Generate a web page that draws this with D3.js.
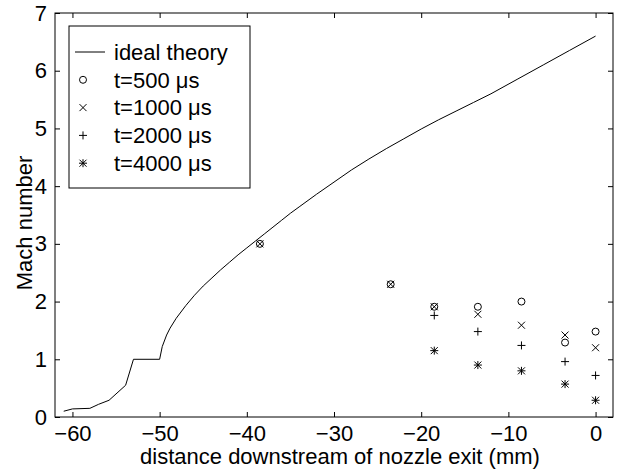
<!DOCTYPE html>
<html>
<head>
<meta charset="utf-8">
<script src="https://cdn.jsdelivr.net/npm/d3@7"></script>
<style>
  html, body { margin: 0; padding: 0; background: #fff; }
  svg { display: block; font-family: "Liberation Sans", Arial, Helvetica, sans-serif; }
</style>
</head>
<body>
<svg id="chart" width="623" height="472"></svg>
<script>
// Ideal-theory Mach number along the nozzle axis (distance mm, Mach)
const theoryX = [-61.0, -60, -58, -57, -55.8, -53.9, -53.0, -50.0, -49.7, -49.2, -48.8, -48.1, -47, -46, -45, -44, -43, -42, -41, -40, -39, -38, -37, -36, -35, -34, -32, -30, -28, -26, -24, -22, -20, -18, -16, -14, -12, -9, -6, -3, 0];
const theoryM = [0.10, 0.14, 0.15, 0.22, 0.29, 0.55, 1.0, 1.0, 1.22, 1.42, 1.54, 1.71, 1.93, 2.11, 2.27, 2.41, 2.55, 2.68, 2.81, 2.93, 3.05, 3.17, 3.29, 3.41, 3.53, 3.64, 3.86, 4.07, 4.28, 4.47, 4.65, 4.82, 4.99, 5.15, 5.30, 5.45, 5.60, 5.85, 6.10, 6.35, 6.60];

// Measured probe positions (mm)
const probeX = [-38.5, -23.5, -18.5, -13.5, -8.5, -3.5, 0];

// Measured Mach numbers at each time (null = not measured)
const m500  = [3.0, 2.30, 1.91, 1.91, 2.00, 1.29, 1.48];
const m1000 = [3.0, 2.30, 1.91, 1.78, 1.59, 1.42, 1.20];
const m2000 = [null, null, 1.76, 1.48, 1.24, 0.96, 0.72];
const m4000 = [null, null, 1.15, 0.90, 0.80, 0.57, 0.29];

const xTicks = [-60, -50, -40, -30, -20, -10, 0];
const yTicks = [0, 1, 2, 3, 4, 5, 6, 7];

const legendLabels = ["ideal theory", "t=500 \u03bcs", "t=1000 \u03bcs", "t=2000 \u03bcs", "t=4000 \u03bcs"];

const W = 623, H = 472;
const margin = { left: 55, right: 10, top: 13, bottom: 55 };
const iw = W - margin.left - margin.right;
const ih = H - margin.top - margin.bottom;
const fontSize = 22;

const svg = d3.select("#chart");
const g = svg.append("g").attr("transform", `translate(${margin.left},${margin.top})`);

const x = d3.scaleLinear().domain([-62, 2]).range([0, iw]);
const y = d3.scaleLinear().domain([0, 7]).range([ih, 0]);

const fmt = d => d < 0 ? "\u2212" + Math.abs(d) : String(d);

// Axes: inward ticks on all four sides, labels on bottom and left
function styleAxis(sel) {
  sel.select(".domain").remove();
  sel.selectAll(".tick line").attr("stroke", "#000").attr("stroke-width", 1);
  sel.selectAll(".tick text").attr("fill", "#000").style("font-size", fontSize + "px");
}
g.append("g").attr("transform", `translate(0,${ih})`)
  .call(d3.axisBottom(x).tickValues(xTicks).tickSizeInner(-5).tickSizeOuter(0).tickPadding(8).tickFormat(fmt))
  .call(styleAxis);
g.append("g")
  .call(d3.axisTop(x).tickValues(xTicks).tickSizeInner(-5).tickSizeOuter(0).tickFormat(""))
  .call(styleAxis);
g.append("g")
  .call(d3.axisLeft(y).tickValues(yTicks).tickSizeInner(-5).tickSizeOuter(0).tickPadding(8).tickFormat(fmt))
  .call(styleAxis);
g.append("g").attr("transform", `translate(${iw},0)`)
  .call(d3.axisRight(y).tickValues(yTicks).tickSizeInner(-5).tickSizeOuter(0).tickFormat(""))
  .call(styleAxis);

// Plot frame
g.append("rect").attr("x", 0).attr("y", 0).attr("width", iw).attr("height", ih)
  .attr("fill", "none").attr("stroke", "#000").attr("stroke-width", 1);

// Theory curve
const theory = theoryX.map((d, i) => [d, theoryM[i]]);
g.append("path").datum(theory)
  .attr("fill", "none").attr("stroke", "#000").attr("stroke-width", 1)
  .attr("d", d3.line().x(d => x(d[0])).y(d => y(d[1])));

// Marker shapes
const R = 3.5;
function drawMarker(sel, kind, cx, cy) {
  const mg = sel.append("g").attr("transform", `translate(${cx},${cy})`)
    .attr("stroke", "#000").attr("stroke-width", 1).attr("fill", "none");
  const line = (x1, y1, x2, y2) => mg.append("line").attr("x1", x1).attr("y1", y1).attr("x2", x2).attr("y2", y2);
  if (kind === "o") mg.append("circle").attr("r", R);
  if (kind === "x" || kind === "*") { line(-R, -R, R, R); line(-R, R, R, -R); }
  if (kind === "+" || kind === "*") { line(-R - 0.5, 0, R + 0.5, 0); line(0, -R - 0.5, 0, R + 0.5); }
}

const series = [
  { kind: "o", values: m500 },
  { kind: "x", values: m1000 },
  { kind: "+", values: m2000 },
  { kind: "*", values: m4000 }
];
const pts = g.append("g");
series.forEach(s => {
  s.values.forEach((v, i) => {
    if (v == null) return;
    drawMarker(pts, s.kind, x(probeX[i]), y(v));
  });
});

// Axis titles
svg.append("text")
  .attr("x", margin.left + iw / 2 + 6).attr("y", 464)
  .attr("text-anchor", "middle").style("font-size", fontSize + "px")
  .text("distance downstream of nozzle exit (mm)");
svg.append("text")
  .attr("transform", `translate(24,${margin.top + ih / 2 + 8}) rotate(-90)`)
  .attr("text-anchor", "middle").attr("dy", "0.35em").style("font-size", fontSize + "px")
  .text("Mach number");

// Legend
const lg = svg.append("g").attr("transform", "translate(69,26)");
lg.append("rect").attr("width", 181).attr("height", 162)
  .attr("fill", "#fff").attr("stroke", "#000").attr("stroke-width", 1);
const rowY = i => 26 + i * 27.8;
lg.append("line").attr("x1", 6).attr("x2", 36).attr("y1", rowY(0)).attr("y2", rowY(0))
  .attr("stroke", "#000").attr("stroke-width", 1);
["o", "x", "+", "*"].forEach((k, i) => drawMarker(lg, k, 14, rowY(i + 1)));
legendLabels.forEach((t, i) => {
  lg.append("text").attr("x", 45).attr("y", rowY(i)).attr("dy", "0.35em")
    .style("font-size", fontSize + "px").text(t);
});
</script>
</body>
</html>
